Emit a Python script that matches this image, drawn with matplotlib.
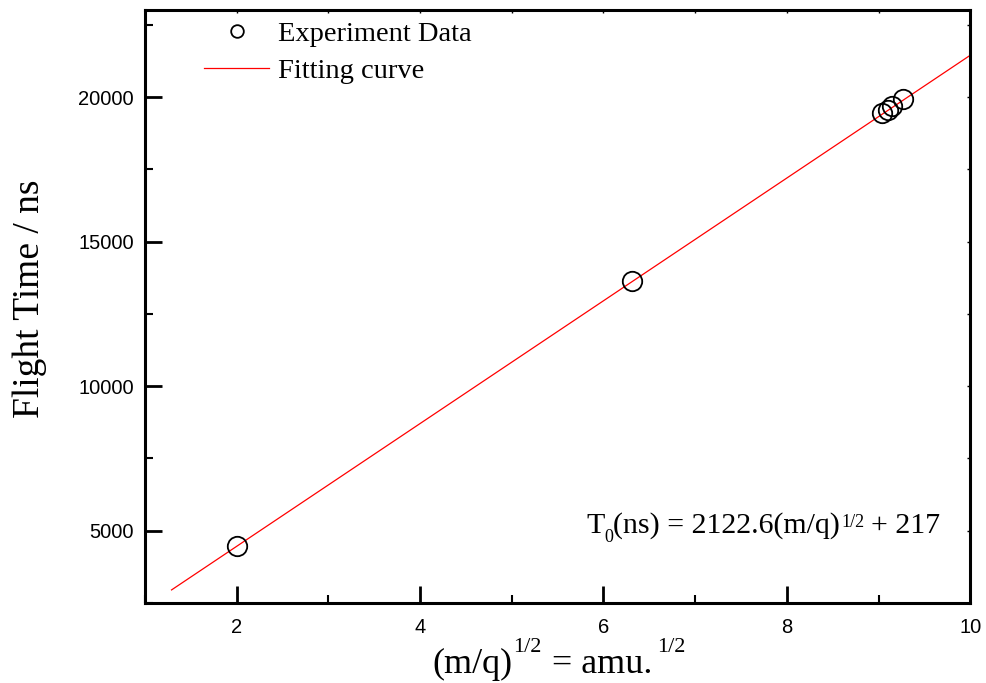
import matplotlib
matplotlib.use("Agg")
import matplotlib.pyplot as plt
import numpy as np
from matplotlib.ticker import MultipleLocator

# measured points: sqrt(m/q) vs flight time (ns)
sqrt_mq = [2.0, 6.31, 9.04, 9.10, 9.15, 9.27]
flight_t = [4480, 13640, 19450, 19550, 19690, 19930]

# linear fit T0 = a*sqrt(m/q) + b
fit_a = 2122.6
fit_b = 217
fit_x = [1.29, 10.0]

W, H = 986, 683
SERIF = 'Liberation Serif'


def draw_pieces(fig, x_px, base_px, pieces):
    # lay out text runs left to right; each run is (text, size, raise_px, gap_px before)
    r = fig.canvas.get_renderer()
    x = x_px
    for s, size, dy, gap in pieces:
        x += gap
        t = fig.text(x / W, (H - base_px + dy) / H, s, fontsize=size, family=SERIF,
                     ha='left', va='baseline')
        x += t.get_window_extent(r).width


fig = plt.figure(figsize=(9.86, 6.83), dpi=100)
ax = fig.add_axes([0.147, 0.117, 0.837, 0.868])

fx = np.array(fit_x)
ax.plot(fx, fit_a * fx + fit_b, color='red', linewidth=0.9, label='Fitting curve', zorder=2)
ax.plot(sqrt_mq, flight_t, linestyle='none', marker='o', markersize=14,
        markerfacecolor='none', markeredgecolor='black', markeredgewidth=1.3,
        label='Experiment Data', zorder=3)

ax.set_xlim(1.0, 10.0)
ax.set_ylim(2500, 23000)
ax.xaxis.set_major_locator(MultipleLocator(2))
ax.xaxis.set_minor_locator(MultipleLocator(1))
ax.yaxis.set_major_locator(MultipleLocator(5000))
ax.yaxis.set_minor_locator(MultipleLocator(2500))

for s in ax.spines.values():
    s.set_linewidth(2.2)

ax.tick_params(which='major', direction='in', length=12, width=2, labelsize=14.5,
               top=False, right=False, pad=8)
ax.tick_params(axis='x', which='major', pad=11)
ax.tick_params(which='minor', direction='in', length=6, width=1.5, top=False, right=False)
for lab in ax.get_xticklabels() + ax.get_yticklabels():
    lab.set_family('Liberation Sans')

# tiny ticks on top and right
axt = ax.secondary_xaxis('top')
axt.xaxis.set_major_locator(MultipleLocator(1))
axt.tick_params(direction='in', length=2, width=1, labeltop=False)
axr = ax.secondary_yaxis('right')
axr.yaxis.set_major_locator(MultipleLocator(2500))
axr.tick_params(direction='in', length=2, width=1, labelright=False)

ax.set_ylabel('Flight Time / ns', fontsize=27, family=SERIF)
ax.yaxis.set_label_coords(-0.119, 0.513)

h, l = ax.get_legend_handles_labels()
leg = ax.legend([h[1], h[0]], [l[1], l[0]], loc='upper left', bbox_to_anchor=(0.072, 0.981),
                frameon=False, prop={'family': SERIF, 'size': 20.5},
                borderpad=0, borderaxespad=0,
                handlelength=2.28, handletextpad=0.3, labelspacing=0.38, markerscale=0.65)

# x label with raised superscripts, as in the original
draw_pieces(fig, 432, 673, [
    ('(m/q)', 26, 0, 0),
    ('1/2', 16, 21, 1),
    ('= amu.', 26, 0, 10),
    ('1/2', 16, 21, 5),
])

# fit equation
draw_pieces(fig, 586, 533, [
    ('T', 21.5, 0, 0),
    ('0', 13, -9, 0),
    ('(ns) = 2122.6(m/q)', 21.5, 0, 0),
    ('1/2', 13, 6, 1),
    ('+ 217', 21.5, 0, 7),
])

fig.savefig('out.png', dpi=100)
